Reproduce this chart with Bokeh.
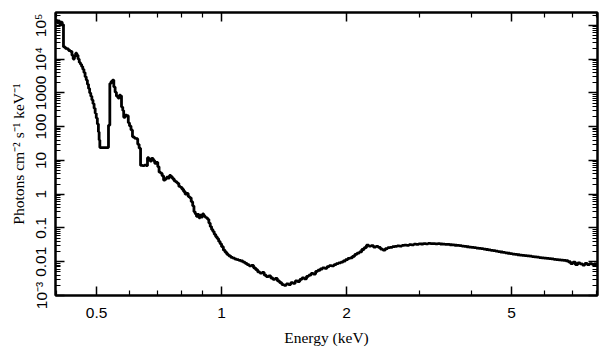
from bokeh.plotting import figure
from bokeh.models import Range1d, FixedTicker, LogAxis, CustomJSTickFormatter
from bokeh.embed import file_html
from bokeh.resources import INLINE

# Bin left edges (keV) and flux (photons cm^-2 s^-1 keV^-1)
energy = [
    0.398, 0.401, 0.404, 0.407, 0.410, 0.413, 0.416, 0.420, 0.424, 0.428,
    0.432, 0.436, 0.439, 0.442, 0.445, 0.448, 0.451, 0.454, 0.457, 0.460,
    0.463, 0.466, 0.469, 0.472, 0.475, 0.478, 0.481, 0.484, 0.487, 0.490,
    0.493, 0.496, 0.499, 0.502, 0.505, 0.507, 0.509, 0.534, 0.538, 0.542,
    0.546, 0.550, 0.554, 0.558, 0.563, 0.567, 0.571, 0.574, 0.578, 0.581,
    0.586, 0.591, 0.596, 0.600, 0.605, 0.610, 0.616, 0.622, 0.628, 0.633,
    0.638, 0.645, 0.652, 0.658, 0.663, 0.668, 0.673, 0.678, 0.684, 0.690,
    0.696, 0.702, 0.707, 0.713, 0.719, 0.725, 0.731, 0.737, 0.743, 0.749,
    0.755, 0.761, 0.768, 0.775, 0.782, 0.789, 0.796, 0.803, 0.810, 0.817,
    0.824, 0.831, 0.838, 0.845, 0.852, 0.858, 0.864, 0.870, 0.876, 0.882,
    0.888, 0.894, 0.900, 0.906, 0.912, 0.918, 0.925, 0.932, 0.939, 0.946,
    0.953, 0.960, 0.968, 0.976, 0.984, 0.992, 1.000, 1.010, 1.020, 1.030,
    1.040, 1.052, 1.064, 1.076, 1.088, 1.100, 1.113, 1.126, 1.139, 1.152,
    1.166, 1.180, 1.194, 1.208, 1.222, 1.237, 1.252, 1.267, 1.282, 1.298,
    1.314, 1.330, 1.346, 1.363, 1.380, 1.397, 1.414, 1.432, 1.450, 1.468,
    1.486, 1.505, 1.524, 1.543, 1.562, 1.582, 1.602, 1.622, 1.643, 1.664,
    1.685, 1.706, 1.728, 1.750, 1.772, 1.795, 1.818, 1.841, 1.865, 1.889,
    1.913, 1.938, 1.963, 1.988, 2.014, 2.040, 2.066, 2.093, 2.120, 2.148,
    2.176, 2.205, 2.234, 2.263, 2.293, 2.323, 2.354, 2.385, 2.416, 2.448,
    2.480, 2.513, 2.546, 2.580, 2.614, 2.649, 2.684, 2.720, 2.756, 2.793,
    2.830, 2.868, 2.906, 2.945, 2.984, 3.024, 3.064, 3.105, 3.146, 3.188,
    3.231, 3.274, 3.318, 3.362, 3.407, 3.453, 3.499, 3.546, 3.594, 3.642,
    3.691, 3.741, 3.791, 3.842, 3.894, 3.946, 3.999, 4.053, 4.108, 4.163,
    4.219, 4.276, 4.334, 4.392, 4.451, 4.511, 4.572, 4.634, 4.696, 4.759,
    4.823, 4.888, 4.954, 5.021, 5.089, 5.158, 5.228, 5.299, 5.371, 5.444,
    5.518, 5.593, 5.669, 5.746, 5.824, 5.903, 5.983, 6.064, 6.146, 6.229,
    6.313, 6.398, 6.484, 6.571, 6.660, 6.750, 6.841, 6.933, 7.026, 7.120,
    7.215, 7.311, 7.408, 7.506, 7.605, 7.705, 7.806, 7.908, 8.050,
]
flux = [
    1.45e5, 1.2e5, 1.35e5, 1.1e5, 1.25e5, 1.05e5, 2.3e4, 2.1e4, 2.0e4, 1.8e4,
    1.7e4, 1.3e4, 1.0e4, 1.2e4, 1.5e4, 1.3e4, 1.0e4, 8.0e3, 7.0e3, 6.0e3,
    5.0e3, 4.0e3, 3.0e3, 2.4e3, 1.8e3, 1.35e3, 1.0e3, 800, 620, 480,
    350, 250, 180, 120, 70, 40, 24, 110, 1900, 2200,
    2400, 1500, 1050, 800, 700, 850, 820, 380, 300, 190,
    220, 210, 130, 105, 80, 50, 46, 44, 30, 23,
    7.1, 7.0, 7.3, 7.0, 12, 11, 9.5, 11.5, 10, 8.2,
    8.8, 6.5, 4.5, 4.2, 3.5, 2.6, 2.8, 3.2, 3.0, 3.6,
    3.3, 2.9, 2.5, 2.3, 2.1, 1.7, 1.6, 1.4, 1.2, 1.0,
    1.05, 0.85, 0.78, 0.60, 0.45, 0.30, 0.26, 0.22, 0.25, 0.20,
    0.24, 0.21, 0.26, 0.23, 0.21, 0.20, 0.18, 0.14, 0.11, 0.09,
    0.078, 0.065, 0.055, 0.048, 0.040, 0.034, 0.028, 0.022, 0.019, 0.0165,
    0.015, 0.0135, 0.0128, 0.0120, 0.0115, 0.0110, 0.0105, 0.0098, 0.0090, 0.0082,
    0.0075, 0.0078, 0.0066, 0.0058, 0.0050, 0.0046, 0.0048, 0.0040, 0.0036, 0.0038,
    0.0033, 0.0030, 0.0032, 0.0027, 0.0024, 0.0021, 0.0020, 0.0022, 0.0021, 0.0024,
    0.0023, 0.0027, 0.0026, 0.0030, 0.0033, 0.0031, 0.0037, 0.0040, 0.0045, 0.0043,
    0.0052, 0.0056, 0.0061, 0.0066, 0.0064, 0.0072, 0.0077, 0.0075, 0.0082, 0.0088,
    0.0092, 0.0098, 0.0105, 0.0115, 0.0125, 0.0130, 0.0145, 0.0165, 0.0180, 0.0195,
    0.0230, 0.0260, 0.0310, 0.0290, 0.0300, 0.0270, 0.0285, 0.0265, 0.0235, 0.0220,
    0.0245, 0.0260, 0.0265, 0.0280, 0.0285, 0.0295, 0.0290, 0.0305, 0.0310, 0.0305,
    0.0320, 0.0315, 0.0330, 0.0325, 0.0340, 0.0335, 0.0345, 0.0340, 0.0348, 0.0342,
    0.0346, 0.0338, 0.0342, 0.0335, 0.0332, 0.0328, 0.0325, 0.0318, 0.0315, 0.0308,
    0.0303, 0.0298, 0.0290, 0.0284, 0.0278, 0.0271, 0.0265, 0.0260, 0.0254, 0.0249,
    0.0244, 0.0237, 0.0230, 0.0224, 0.0218, 0.0212, 0.0205, 0.0200, 0.0194, 0.0189,
    0.0184, 0.0178, 0.0173, 0.0169, 0.0165, 0.0161, 0.0157, 0.0154, 0.0152, 0.0150,
    0.0146, 0.0142, 0.0139, 0.0136, 0.0133, 0.0130, 0.0128, 0.0126, 0.0124, 0.0121,
    0.0118, 0.0116, 0.0113, 0.0111, 0.0110, 0.0107, 0.0100, 0.0088, 0.0098, 0.0082,
    0.0092, 0.0086, 0.0080, 0.0090, 0.0082, 0.0088, 0.0084, 0.0086, 0.0086,
]

x_major = [0.5, 1, 2, 5]
x_minor = [0.4, 0.6, 0.7, 0.8, 0.9, 3, 4, 6, 7, 8]
x_labels = {0.5: "0.5", 1: "1", 2: "2", 5: "5"}

y_major = [1e-3, 1e-2, 1e-1, 1, 10, 100, 1000, 1e4, 1e5]
y_labels = {1e-3: "10\u207b\u00b3", 1e-2: "0.01", 1e-1: "0.1", 1: "1", 10: "10",
            100: "100", 1000: "1000", 1e4: "10\u2074", 1e5: "10\u2075"}
y_minor = [m * 10.0 ** e for e in range(-3, 6) for m in range(2, 10)]

p = figure(width=609, height=357, x_axis_type="log", y_axis_type="log",
           x_range=Range1d(0.398, 8.05), y_range=Range1d(1e-3, 2.4e5),
           output_backend="svg", toolbar_location=None,
           min_border_left=55, min_border_right=12, min_border_top=12,
           min_border_bottom=62)
p.grid.visible = False
p.outline_line_color = "black"
p.outline_line_width = 2
p.background_fill_color = "white"
p.border_fill_color = "white"

p.step(x=energy, y=flux, mode="after", line_color="black", line_width=2.8)

def style(ax, ticker, labels=None, show=True):
    ax.ticker = ticker
    ax.axis_line_width = 2
    ax.axis_line_color = "black"
    ax.major_tick_in = 9
    ax.major_tick_out = 0
    ax.minor_tick_in = 5
    ax.minor_tick_out = 0
    ax.major_tick_line_width = 1.5
    ax.minor_tick_line_width = 1.2
    if show:
        ax.major_label_overrides = labels
        ax.major_label_text_font = "Liberation Sans"
        ax.major_label_text_font_size = "15.5px"
        ax.major_label_text_color = "black"
        ax.axis_label_text_font = "Liberation Serif"
        ax.axis_label_text_font_size = "15.5px"
        ax.axis_label_text_font_style = "normal"
        ax.axis_label_text_color = "black"
    else:
        ax.formatter = CustomJSTickFormatter(code="return ''")
        ax.major_label_standoff = 0
        ax.axis_label = None

xa = p.xaxis[0]
style(xa, FixedTicker(ticks=x_major, minor_ticks=x_minor), x_labels)
xa.axis_label = "Energy (keV)"
xa.major_label_standoff = 12
xa.axis_label_standoff = 8

ya = p.yaxis[0]
style(ya, FixedTicker(ticks=y_major, minor_ticks=y_minor), y_labels)
ya.axis_label = "Photons cm\u207b\u00b2 s\u207b\u00b9 keV\u207b\u00b9"
ya.major_label_orientation = "vertical"
ya.major_label_standoff = 6
ya.axis_label_standoff = 3

top = LogAxis()
style(top, FixedTicker(ticks=x_major, minor_ticks=x_minor), show=False)
p.add_layout(top, "above")
right = LogAxis()
style(right, FixedTicker(ticks=y_major, minor_ticks=y_minor), show=False)
p.add_layout(right, "right")

open("out.html", "w").write(file_html(p, INLINE))
